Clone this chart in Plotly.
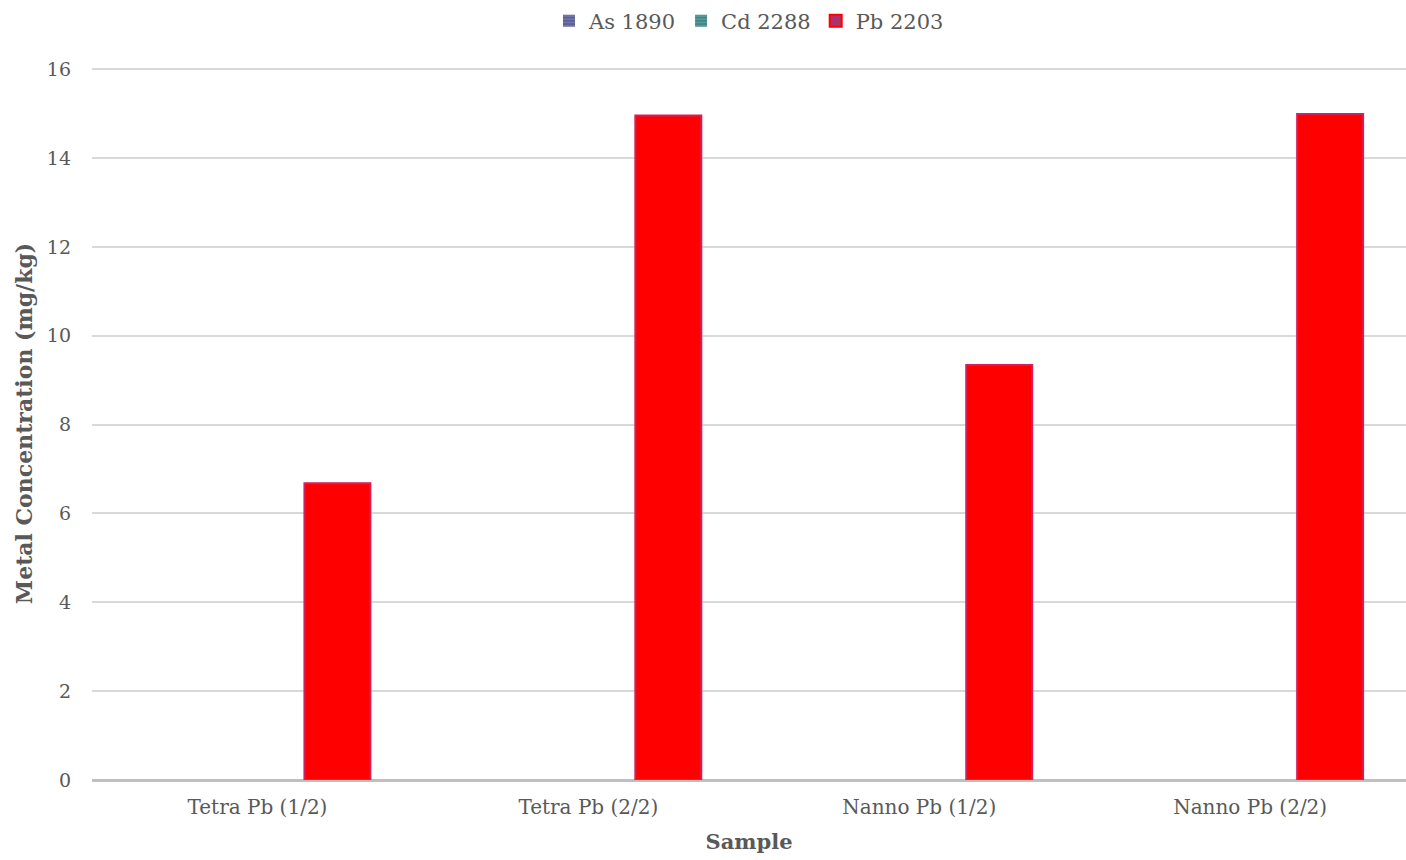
import plotly.graph_objects as go

samples = ["Tetra Pb (1/2)", "Tetra Pb (2/2)", "Nanno Pb (1/2)", "Nanno Pb (2/2)"]
as_1890 = [0, 0, 0, 0]
cd_2288 = [0, 0, 0, 0]
pb_2203 = [6.68, 14.96, 9.34, 14.99]
y_ticks = [0, 2, 4, 6, 8, 10, 12, 14, 16]

FONT = "Georgia, 'DejaVu Serif', serif"
TXT = "#595959"

fig = go.Figure()
fig.add_trace(go.Bar(
    x=samples, y=as_1890, name="As 1890",
    marker=dict(color="#5a5e96", line=dict(width=0),
                pattern=dict(shape="-", fgcolor="#9fa2cc", size=4, solidity=0.35)),
))
fig.add_trace(go.Bar(
    x=samples, y=cd_2288, name="Cd 2288",
    marker=dict(color="#3f8585", line=dict(width=0),
                pattern=dict(shape="-", fgcolor="#8cc0c0", size=4, solidity=0.35)),
))
fig.add_trace(go.Bar(
    x=samples, y=pb_2203, name="Pb 2203", showlegend=False,
    marker=dict(color="#ff0000", line=dict(color="#d2205a", width=2)),
))
# legend swatch for Pb (purple fill, red outline)
fig.add_trace(go.Scatter(
    x=[None], y=[None], mode="markers", name="Pb 2203",
    marker=dict(symbol="square", size=12, color="#b0306a",
                line=dict(color="#ff0000", width=2)),
))

fig.update_layout(
    width=1406, height=860,
    margin=dict(l=92, r=0, t=67, b=80, autoexpand=False),
    paper_bgcolor="white", plot_bgcolor="white",
    barmode="group", bargap=0.275, bargroupgap=0.175,
    font=dict(family=FONT, color=TXT, size=20),
    legend=dict(orientation="h", x=0.5, xanchor="center", y=1.093, yanchor="top",
                font=dict(size=21, color=TXT), itemwidth=30, tracegroupgap=0,
                itemsizing="constant"),
    xaxis=dict(
        title=dict(text="<b>Sample</b>", font=dict(size=21, color=TXT), standoff=16),
        range=[-0.5, 3.471],
        showgrid=False, showline=False, ticks="",
        tickfont=dict(size=20, color=TXT), ticklabelstandoff=13,
    ),
    yaxis=dict(
        title=dict(text="<b>Metal Concentration (mg/kg)</b>", font=dict(size=22, color=TXT), standoff=8),
        range=[0, 16.05], tickvals=y_ticks, showgrid=True, gridcolor="#d9d9d9", gridwidth=1.5,
        zeroline=True, zerolinecolor="#bfbfbf", zerolinewidth=3,
        showline=False, ticks="", tickfont=dict(size=19, color=TXT), ticklabelstandoff=20,
    ),
)

fig.write_html("out.html")
